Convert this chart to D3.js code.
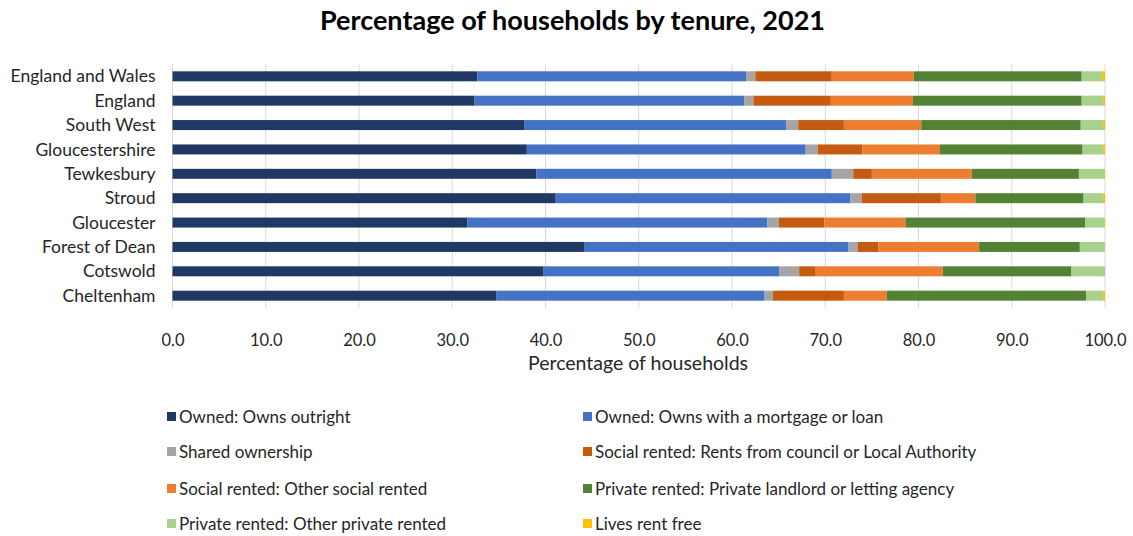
<!DOCTYPE html>
<html>
<head>
<meta charset="utf-8">
<script src="https://cdn.jsdelivr.net/npm/d3@7/dist/d3.min.js"></script>
<style>
  body { margin: 0; background: #fff; }
  svg { display: block; font-family: Lato, "Open Sans", sans-serif; }
</style>
</head>
<body>
<svg id="chart" width="1133" height="536"></svg>
<script>
// Areas, top to bottom
const areas = ["England and Wales", "England", "South West", "Gloucestershire", "Tewkesbury",
               "Stroud", "Gloucester", "Forest of Dean", "Cotswold", "Cheltenham"];

// Tenure categories (stack order)
const tenures = [
  "Owned: Owns outright",
  "Owned: Owns with a mortgage or loan",
  "Shared ownership",
  "Social rented: Rents from council or Local Authority",
  "Social rented: Other social rented",
  "Private rented: Private landlord or letting agency",
  "Private rented: Other private rented",
  "Lives rent free"
];

// Percentage of households per tenure, one array per tenure, in area order
const ownsOutright   = [32.7, 32.4, 37.7, 38.0, 39.0, 41.1, 31.6, 44.2, 39.8, 34.7];
const ownsMortgage   = [28.8, 28.9, 28.1, 29.9, 31.7, 31.6, 32.2, 28.3, 25.3, 28.8];
const sharedOwner    = [ 1.0,  1.0,  1.3,  1.3,  2.3,  1.2,  1.2,  1.0,  2.1,  0.9];
const councilRented  = [ 8.2,  8.3,  4.9,  4.8,  2.0,  8.5,  4.9,  2.2,  1.7,  7.6];
const otherSocial    = [ 8.8,  8.8,  8.3,  8.3, 10.7,  3.7,  8.7, 10.8, 13.7,  4.6];
const privateLandlord= [18.0, 18.1, 17.1, 15.3, 11.5, 11.6, 19.3, 10.8, 13.8, 21.4];
const otherPrivate   = [ 2.2,  2.3,  2.4,  2.2,  2.7,  2.1,  2.0,  2.7,  3.6,  1.8];
const rentFree       = [ 0.3,  0.2,  0.2,  0.2,  0.1,  0.2,  0.1,  0.0,  0.0,  0.2];

const xTicks = [0, 10, 20, 30, 40, 50, 60, 70, 80, 90, 100];

const colors = ["#203864", "#4472C4", "#A5A5A5", "#C55A11", "#ED7D31", "#548235", "#A9D18E", "#FFC000"];

const series = [ownsOutright, ownsMortgage, sharedOwner, councilRented, otherSocial,
                privateLandlord, otherPrivate, rentFree];

const rows = areas.map((a, i) => {
  const r = { area: a };
  tenures.forEach((t, j) => { r[t] = series[j][i]; });
  return r;
});

const svg = d3.select("#chart");
const margin = { left: 172.5, right: 28, top: 64, bottom: 228 };
const W = 1133, H = 536;
const textColor = "#262626";

const x = d3.scaleLinear().domain([0, 100]).range([margin.left, W - margin.right]);
const y = d3.scaleBand().domain(areas).range([margin.top, H - margin.bottom]).paddingInner(0.59).paddingOuter(0.3);

// Title
svg.append("text")
  .attr("x", 572.5).attr("y", 30)
  .attr("text-anchor", "middle")
  .attr("font-size", 27).attr("font-weight", "bold").attr("fill", "#000")
  .text("Percentage of households by tenure, 2021");

// Vertical gridlines
svg.append("g").selectAll("line").data(xTicks).join("line")
  .attr("x1", d => x(d)).attr("x2", d => x(d))
  .attr("y1", margin.top).attr("y2", H - margin.bottom)
  .attr("stroke", "#d9d9d9").attr("stroke-width", 1);

// Stacked bars
const stack = d3.stack().keys(tenures)(rows);
svg.append("g").selectAll("g").data(stack).join("g")
  .attr("fill", (d, i) => colors[i])
  .selectAll("rect").data(d => d).join("rect")
  .attr("x", d => x(d[0]))
  .attr("width", d => Math.max(0, x(d[1]) - x(d[0])))
  .attr("y", d => y(d.data.area))
  .attr("height", y.bandwidth());

// Category axis labels
svg.append("g").selectAll("text").data(areas).join("text")
  .attr("x", margin.left - 17)
  .attr("y", d => y(d) + y.bandwidth() / 2)
  .attr("dy", "0.35em")
  .attr("text-anchor", "end")
  .attr("font-size", 17.5).attr("fill", textColor)
  .text(d => d);

// Value axis
const xAxis = d3.axisBottom(x).tickValues(xTicks).tickFormat(d3.format(".1f")).tickSize(0).tickPadding(0);
const gx = svg.append("g").attr("transform", `translate(0, ${H - margin.bottom + 26})`).call(xAxis);
gx.select(".domain").remove();
gx.selectAll("text").attr("font-size", 16.5).attr("fill", textColor).attr("font-family", "Lato, 'Open Sans', sans-serif");

svg.append("text")
  .attr("x", 638).attr("y", 370)
  .attr("text-anchor", "middle")
  .attr("font-size", 19.5).attr("fill", textColor)
  .text("Percentage of households");

// Legend, two columns
const legendX = [167, 583];
const legendY = [417, 452, 489, 524];
const lg = svg.append("g").selectAll("g").data(tenures).join("g")
  .attr("transform", (d, i) => `translate(${legendX[i % 2]}, ${legendY[Math.floor(i / 2)]})`);
lg.append("rect").attr("x", 0).attr("y", -5).attr("width", 9).attr("height", 9)
  .attr("fill", (d, i) => colors[i]);
lg.append("text").attr("x", 12).attr("y", 0).attr("dy", "0.35em")
  .attr("font-size", 17).attr("fill", textColor)
  .text(d => d);
</script>
</body>
</html>
